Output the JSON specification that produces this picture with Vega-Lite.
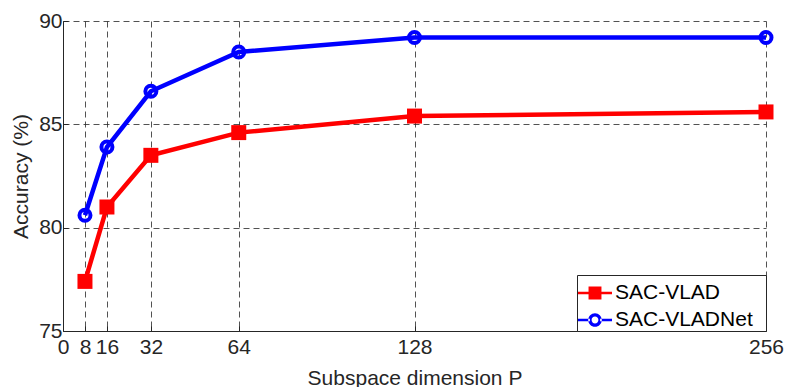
{
  "$schema": "https://vega.github.io/schema/vega-lite/v6.json",
  "width": 703,
  "height": 310,
  "autosize": "none",
  "padding": {"left": 63, "top": 21, "right": 19, "bottom": 56},
  "background": "white",
  "config": {
    "font": "Liberation Sans",
    "view": {"stroke": null},
    "axis": {
      "labelFont": "Liberation Sans",
      "titleFont": "Liberation Sans",
      "labelColor": "#262626",
      "titleColor": "#262626",
      "labelFontSize": 21,
      "titleFontSize": 21,
      "titleFontWeight": "normal",
      "domainColor": "#262626",
      "domainWidth": 1,
      "grid": true,
      "gridColor": "#262626",
      "gridOpacity": 1,
      "gridDash": [6, 4],
      "gridWidth": 0.8,
      "ticks": true,
      "tickSize": -5,
      "tickColor": "#262626",
      "tickWidth": 1
    }
  },
  "data": {
    "values": [
      {"P": 8, "acc": 77.4, "series": "SAC-VLAD"},
      {"P": 16, "acc": 81.0, "series": "SAC-VLAD"},
      {"P": 32, "acc": 83.5, "series": "SAC-VLAD"},
      {"P": 64, "acc": 84.6, "series": "SAC-VLAD"},
      {"P": 128, "acc": 85.4, "series": "SAC-VLAD"},
      {"P": 256, "acc": 85.6, "series": "SAC-VLAD"},
      {"P": 8, "acc": 80.6, "series": "SAC-VLADNet"},
      {"P": 16, "acc": 83.9, "series": "SAC-VLADNet"},
      {"P": 32, "acc": 86.6, "series": "SAC-VLADNet"},
      {"P": 64, "acc": 88.5, "series": "SAC-VLADNet"},
      {"P": 128, "acc": 89.2, "series": "SAC-VLADNet"},
      {"P": 256, "acc": 89.2, "series": "SAC-VLADNet"}
    ]
  },
  "encoding": {
    "x": {
      "field": "P", "type": "quantitative",
      "scale": {"domain": [0, 256], "nice": false, "zero": false},
      "axis": {"values": [0, 8, 16, 32, 64, 128, 256], "title": "Subspace dimension P", "labelPadding": 10, "titlePadding": 10, "labelFlush": false}
    },
    "y": {
      "field": "acc", "type": "quantitative",
      "scale": {"domain": [75, 90], "nice": false, "zero": false},
      "axis": {"values": [75, 80, 85, 90], "title": "Accuracy (%)", "labelPadding": 6, "titlePadding": 7}
    }
  },
  "layer": [
    {
      "mark": {"type": "line", "strokeWidth": 4.5, "clip": false},
      "encoding": {
        "color": {"field": "series", "type": "nominal", "scale": {"domain": ["SAC-VLAD", "SAC-VLADNet"], "range": ["#ff0000", "#0000ff"]}}
      }
    },
    {
      "transform": [{"filter": "datum.series == 'SAC-VLAD'"}],
      "mark": {"type": "square", "size": 225, "filled": true, "opacity": 1, "color": "#ff0000", "clip": false}
    },
    {
      "transform": [{"filter": "datum.series == 'SAC-VLADNet'"}],
      "mark": {"type": "point", "shape": "circle", "size": 121, "filled": false, "fill": "none", "strokeWidth": 4, "opacity": 1, "color": "#0000ff", "clip": false}
    },
    {
      "transform": [{"filter": "datum.P < 0"}],
      "mark": {"type": "point", "filled": true, "opacity": 1},
      "encoding": {
        "color": {"field": "series", "type": "nominal", "scale": {"domain": ["SAC-VLAD", "SAC-VLADNet"], "range": ["#ff0000", "#0000ff"]},
          "legend": {
            "title": null,
            "orient": "bottom-right",
            "offset": 0,
            "fillColor": "white",
            "strokeColor": "#262626",
            "padding": 1,
            "symbolSize": 1156,
            "symbolOpacity": 1,
            "symbolStrokeWidth": 0,
            "labelFont": "Liberation Sans",
            "labelFontSize": 21,
            "labelColor": "black",
            "labelOffset": 3,
            "labelExpr": "datum.label + '\u00a0\u00a0\u200b'",
            "rowPadding": -8
          }
        },
        "shape": {"field": "series", "type": "nominal", "scale": {"domain": ["SAC-VLAD", "SAC-VLADNet"], "range": [
          "M-1,-0.08H1V0.08H-1Z M-0.38,-0.38H0.38V0.38H-0.38Z",
          "M-1,-0.08H-0.3V0.08H-1Z M0.3,-0.08H1V0.08H0.3Z M-0.4,0A0.4,0.4 0 1,0 0.4,0A0.4,0.4 0 1,0 -0.4,0Z M-0.2,0A0.2,0.2 0 1,1 0.2,0A0.2,0.2 0 1,1 -0.2,0Z"
        ]}}
      }
    }
  ]
}
